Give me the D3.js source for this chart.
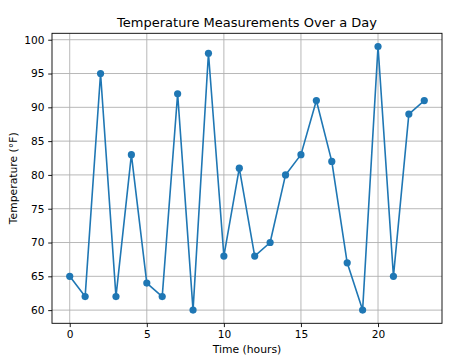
<!DOCTYPE html>
<html><head><meta charset="utf-8">
<script src="https://cdn.jsdelivr.net/npm/d3@7"></script>
<style>body{margin:0;background:#fff}svg{display:block;font-family:"DejaVu Sans",sans-serif}</style>
</head><body><svg id="c" width="460" height="359"></svg>
<script>
const hours = d3.range(0, 24);
const temps = [65, 62, 95, 62, 83, 64, 62, 92, 60, 98, 68, 81, 68, 70, 80, 83, 91, 82, 67, 60, 99, 65, 89, 91];
const xTicks = [0, 5, 10, 15, 20];
const yTicks = [60, 65, 70, 75, 80, 85, 90, 95, 100];
const title = "Temperature Measurements Over a Day";
const xLabel = "Time (hours)";
const yLabel = "Temperature (°F)";

const svg = d3.select("#c");
const L = 52, R = 442, T = 33.3, B = 323.3;
const x = d3.scaleLinear().domain([-1.15, 24.15]).range([L, R]);
const yMin = d3.min(temps), yMax = d3.max(temps), pad = (yMax - yMin) * 0.05;
const y = d3.scaleLinear().domain([yMin - pad, yMax + pad]).range([B, T]);

const g = svg.append("g");
g.selectAll(".gx").data(xTicks).join("line").attr("x1", d => x(d)).attr("x2", d => x(d))
  .attr("y1", T).attr("y2", B).attr("stroke", "#b0b0b0").attr("stroke-width", 0.9);
g.selectAll(".gy").data(yTicks).join("line").attr("y1", d => y(d)).attr("y2", d => y(d))
  .attr("x1", L).attr("x2", R).attr("stroke", "#b0b0b0").attr("stroke-width", 0.9);

const xa = svg.append("g").attr("transform", `translate(0,${B})`)
  .call(d3.axisBottom(x).tickValues(xTicks).tickSize(3.8).tickPadding(3.8).tickFormat(d3.format("d")));
const ya = svg.append("g").attr("transform", `translate(${L},0)`)
  .call(d3.axisLeft(y).tickValues(yTicks).tickSize(3.8).tickPadding(3.8).tickFormat(d3.format("d")));
[xa, ya].forEach(a => {
  a.select(".domain").remove();
  a.selectAll("text").attr("font-size", 10.6).attr("fill", "#000").attr("font-family", "DejaVu Sans, sans-serif");
  a.selectAll("line").attr("stroke", "#000").attr("stroke-width", 0.9);
});
svg.append("rect").attr("x", L).attr("y", T).attr("width", R - L).attr("height", B - T)
  .attr("fill", "none").attr("stroke", "#000").attr("stroke-width", 0.9);

const line = d3.line().x((d, i) => x(hours[i])).y(d => y(d));
svg.append("path").datum(temps).attr("d", line).attr("fill", "none")
  .attr("stroke", "#1f77b4").attr("stroke-width", 1.6).attr("stroke-linejoin", "round");
svg.selectAll(".pt").data(temps).join("circle").attr("cx", (d, i) => x(hours[i])).attr("cy", d => y(d))
  .attr("r", 3.6).attr("fill", "#1f77b4");

svg.append("text").attr("x", (L + R) / 2).attr("y", 27).attr("text-anchor", "middle")
  .attr("font-size", 13).text(title);
svg.append("text").attr("x", (L + R) / 2).attr("y", 352.5).attr("text-anchor", "middle")
  .attr("font-size", 10.8).text(xLabel);
svg.append("text").attr("transform", `translate(16.5,${(T + B) / 2}) rotate(-90)`).attr("text-anchor", "middle")
  .attr("font-size", 10.8).text(yLabel);
</script></body></html>
